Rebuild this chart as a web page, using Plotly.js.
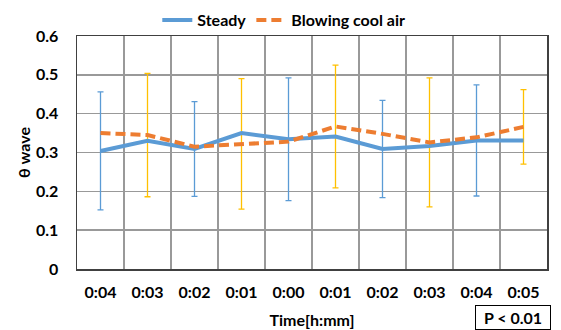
<!DOCTYPE html>
<html><head><meta charset="utf-8">
<script src="https://cdn.plot.ly/plotly-3.0.1.min.js"></script>
<style>html,body{margin:0;padding:0;background:#fff}#c{width:561px;height:330px}</style>
</head><body><div id="c"></div>
<script>
const timeLabels = ["0:04","0:03","0:02","0:01","0:00","0:01","0:02","0:03","0:04","0:05"];
const steady  = [0.304,0.330,0.309,0.350,0.334,0.341,0.309,0.317,0.331,0.331];
const blowing = [0.350,0.345,0.315,0.322,0.328,0.367,0.348,0.326,0.339,0.366];
const steadySD  = [0.152,null,0.122,null,0.158,null,0.125,null,0.143,null];
const blowingSD = [null,0.159,null,0.168,null,0.158,null,0.166,null,0.096];
const yTicks = [0,0.1,0.2,0.3,0.4,0.5,0.6];

const idx = timeLabels.map((_, i) => i);
const FONT = "Lato, 'Liberation Sans', sans-serif";
const FS = 16;

function errTrace(vals, sd, color){
  const xs=[], ys=[], es=[];
  idx.forEach(i => { if (sd[i] != null){ xs.push(i); ys.push(vals[i]); es.push(sd[i]); } });
  return {x: xs, y: ys, type:'scatter', mode:'markers', marker:{size:1, opacity:0},
    showlegend:false, hoverinfo:'skip',
    error_y:{type:'data', array: es, visible:true, color: color, thickness:1.3, width:3}};
}

const data = [
  errTrace(steady, steadySD, '#5B9BD5'),
  errTrace(blowing, blowingSD, '#FFC000'),
  {x: idx, y: steady, type:'scatter', mode:'lines', name:'Steady',
   line:{color:'#5B9BD5', width:4}},
  {x: idx, y: blowing, type:'scatter', mode:'lines', name:'Blowing cool air',
   line:{color:'#ED7D31', width:4, dash:'10px,5px'}}
];

const layout = {
  width:561, height:330,
  margin:{l:77, r:14, t:36, b:61, autoexpand:false},
  paper_bgcolor:'#fff', plot_bgcolor:'#fff',
  font:{family:FONT, size:FS, color:'#000', weight:'bold'},
  showlegend:true,
  legend:{orientation:'h', x:0.44, xanchor:'center', y:0.995, yanchor:'bottom',
    bgcolor:'rgba(0,0,0,0)',
    font:{family:FONT, size:FS, color:'#000', weight:'bold'}, traceorder:'normal'},
  xaxis:{range:[-0.5,9.5], tickmode:'array', tickvals: idx, ticktext: timeLabels,
    showgrid:false, zeroline:false, ticks:'', ticklabelstandoff:8,
    showline:true, linecolor:'#404040', linewidth:1.5, mirror:true,
    tickfont:{family:FONT, size:FS, weight:'bold'},
    minor:{tickvals: idx.map(i => i + 0.5), showgrid:true, gridcolor:'#999999', gridwidth:1.5, ticks:''},
    title:{text:'Time[h:mm]', standoff:15, font:{family:FONT, size:FS, weight:'bold'}}},
  yaxis:{range:[0,0.6], tickmode:'array', tickvals:yTicks, ticktext: yTicks.map(v => v===0?'0':v.toFixed(1)),
    showgrid:true, gridcolor:'#999999', gridwidth:1.5, zeroline:false, ticks:'',
    ticklabelstandoff:14,
    showline:true, linecolor:'#404040', linewidth:1.5, mirror:true,
    tickfont:{family:FONT, size:FS, weight:'bold'},
    title:{text:'θ wave', standoff:1, font:{family:FONT, size:FS, weight:'bold'}}},
  annotations:[{xref:'paper', yref:'paper', x:0.928, y:-0.208, xanchor:'center', yanchor:'middle',
    text:'P < 0.01', showarrow:false, font:{family:FONT, size:FS, color:'#000', weight:'bold'},
    bordercolor:'#000', borderwidth:1, borderpad:1, width:72, height:21, bgcolor:'#fff'}]
};
Plotly.newPlot('c', data, layout, {displayModeBar:false, staticPlot:true});
</script></body></html>
